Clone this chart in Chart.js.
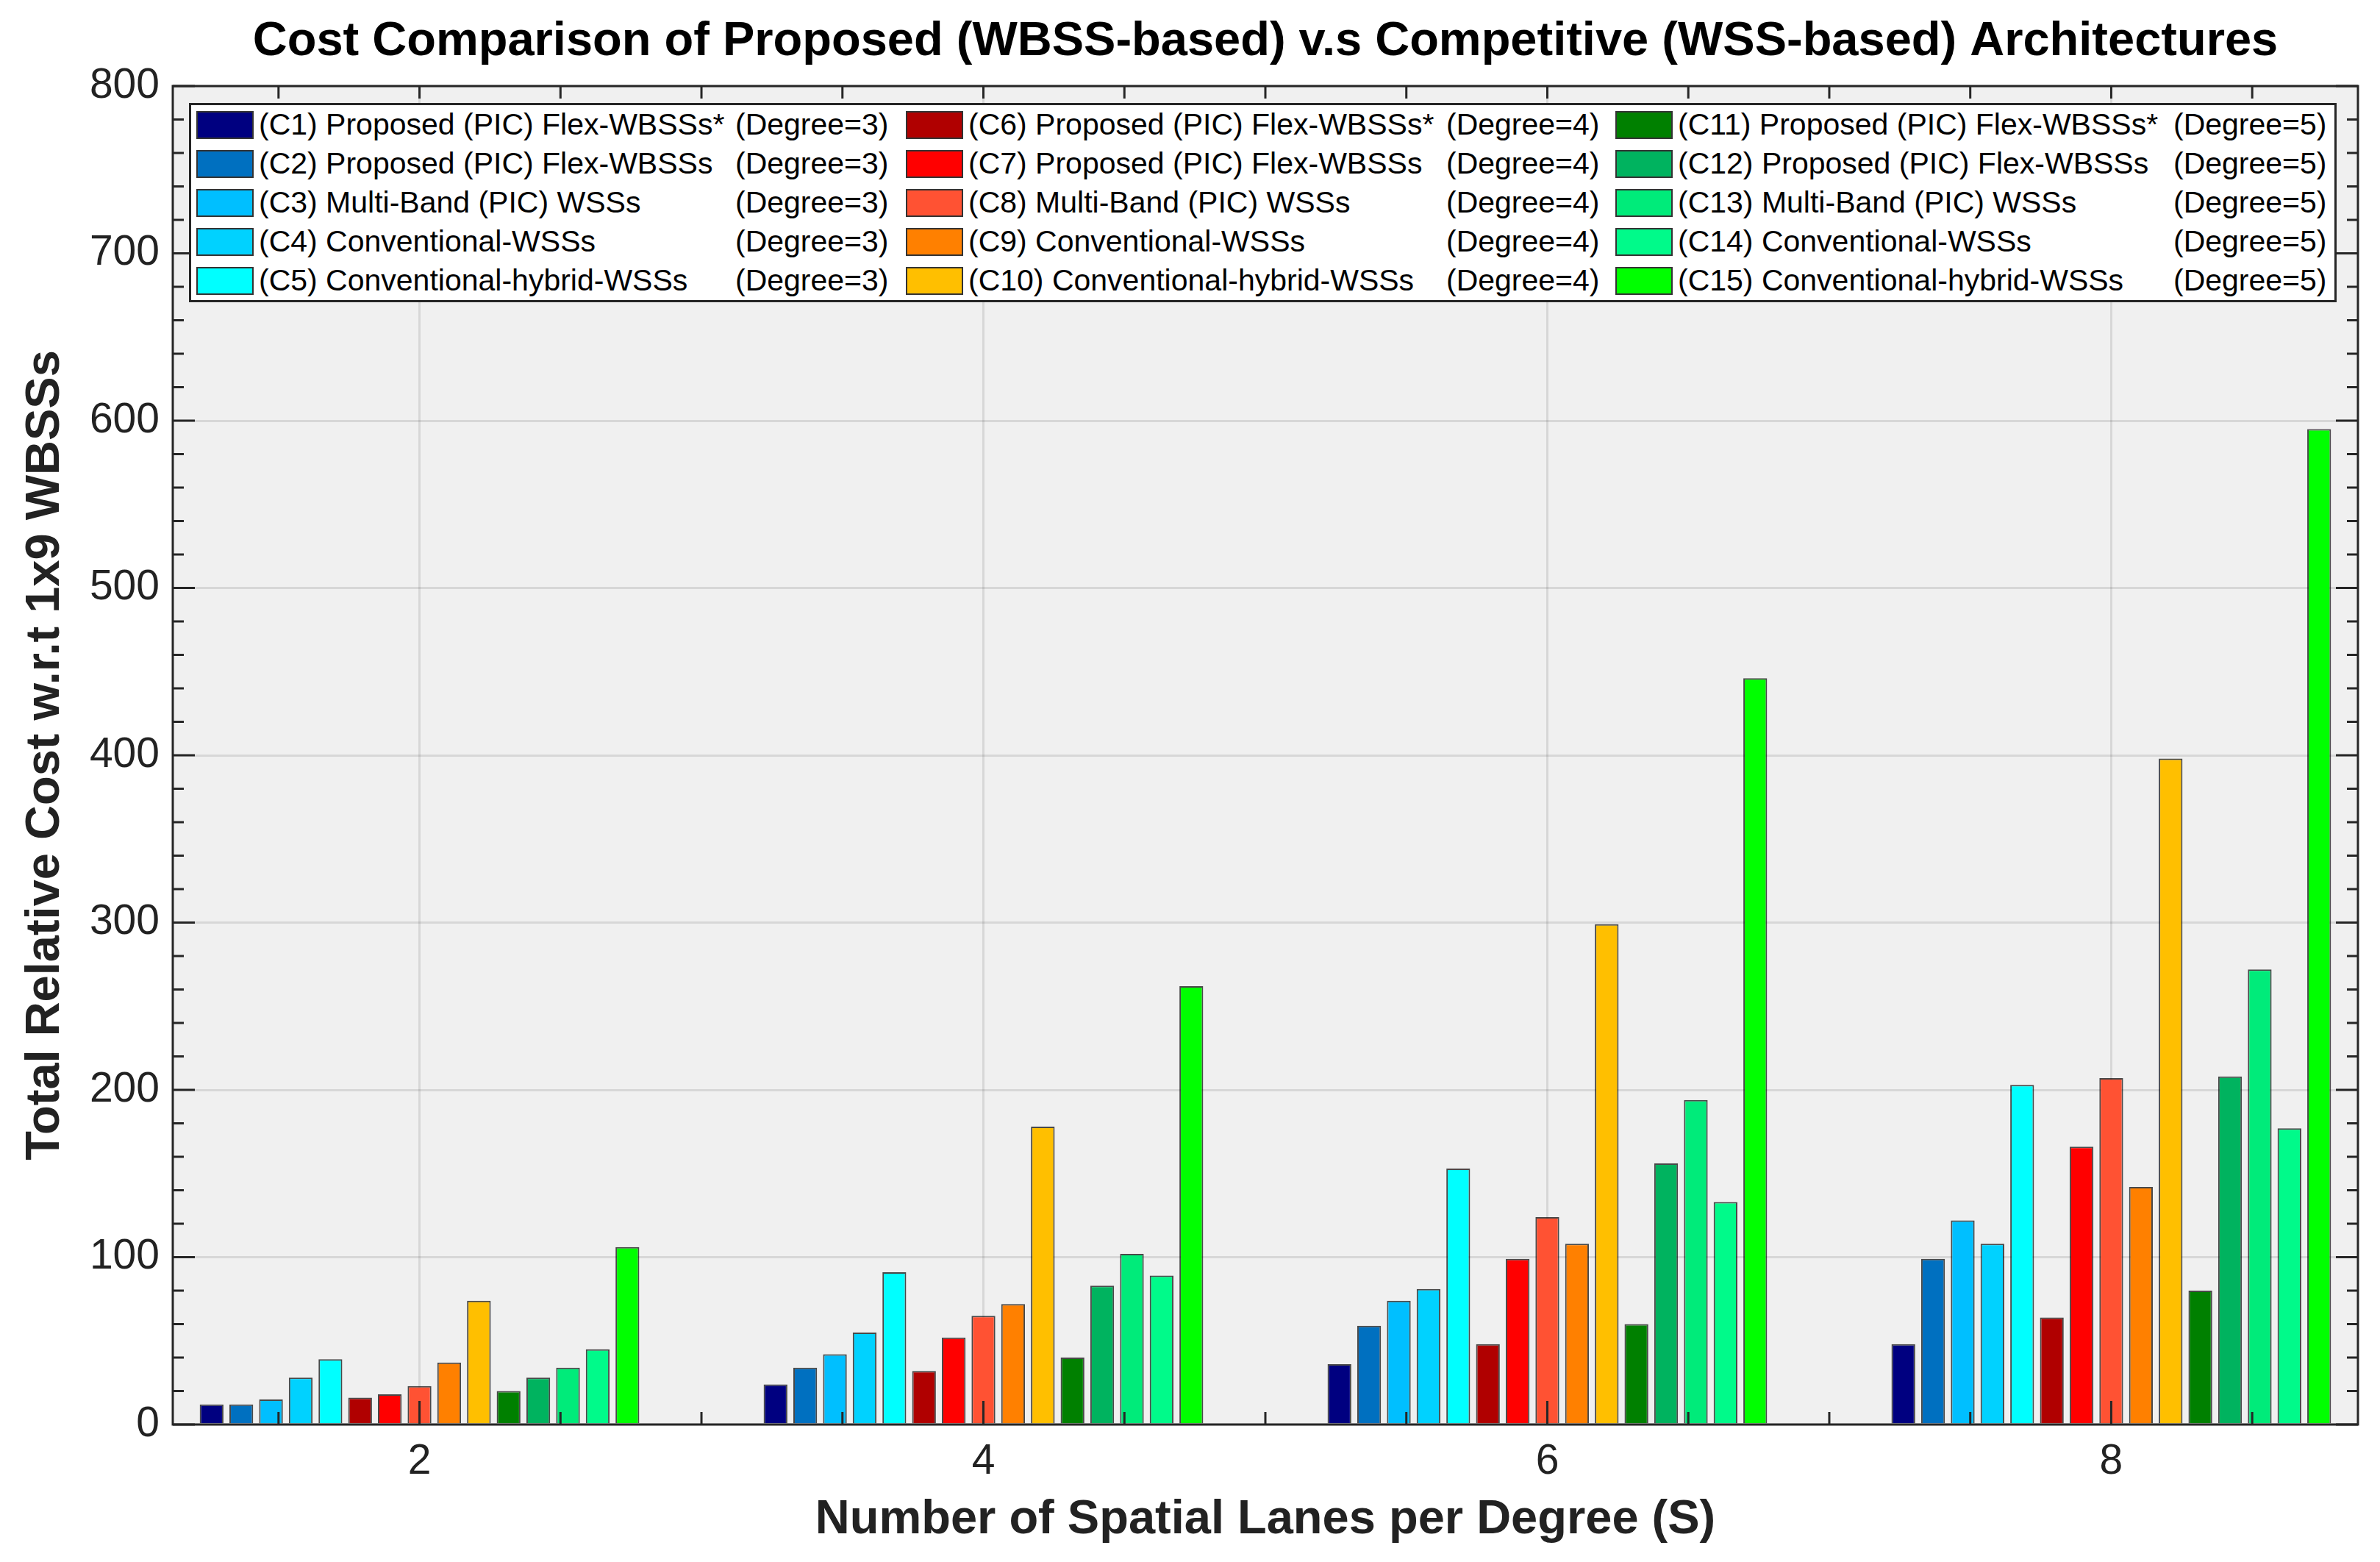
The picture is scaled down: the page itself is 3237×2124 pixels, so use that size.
<!DOCTYPE html>
<html>
<head>
<meta charset="utf-8">
<script src="https://cdn.jsdelivr.net/npm/chart.js@4.4.1/dist/chart.umd.min.js"></script>
<style>
    html, body { margin: 0; padding: 0; background: #fff; }
    #wrap { position: relative; width: 3237px; height: 2124px; }
    #cost-chart { display: block; }
    #legend {
        position: absolute; left: 257px; top: 140px;
        background: #fff; border: 3px solid #262626;
        padding: 0 0 0 7px; box-sizing: border-box; width: 2921px;
        display: grid;
        grid-template-columns: 78px 641px 225px 78px 643px 223px 78px 667px 212px;
        column-gap: 7px;
        grid-auto-rows: 53px;
        font-family: 'Liberation Sans', Arial, sans-serif; font-size: 41px; color: #000;
    }
    #legend .sw { align-self: center; height: 38px; box-sizing: border-box; border: 2px solid #333; }
    #legend .nm, #legend .dg { align-self: center; white-space: pre; line-height: 1; }
</style>
</head>
<body>
<div id="wrap">
    <canvas id="cost-chart" width="3237" height="2124"></canvas>
    <div id="legend"></div>
</div>
<script>
// Eixo x: número de faixas espaciais por grau (S)
const lanes = [2, 4, 6, 8];

// Custo relativo total (w.r.t 1x9 WBSS)
const c1 = [12, 24, 36, 48];
const c2 = [12, 34, 59, 99];
const c3 = [15, 42, 74, 122];
const c4 = [28, 55, 81, 108];
const c5 = [39, 91, 153, 203];
const c6 = [16, 32, 48, 64];
const c7 = [18, 52, 99, 166];
const c8 = [23, 65, 124, 207];
const c9 = [37, 72, 108, 142];
const c10 = [74, 178, 299, 398];
const c11 = [20, 40, 60, 80];
const c12 = [28, 83, 156, 208];
const c13 = [34, 102, 194, 272];
const c14 = [45, 89, 133, 177];
const c15 = [106, 262, 446, 595];

const seriesNames = [
    '(C1) Proposed (PIC) Flex-WBSSs*', '(C2) Proposed (PIC) Flex-WBSSs', '(C3) Multi-Band (PIC) WSSs',
    '(C4) Conventional-WSSs', '(C5) Conventional-hybrid-WSSs',
    '(C6) Proposed (PIC) Flex-WBSSs*', '(C7) Proposed (PIC) Flex-WBSSs', '(C8) Multi-Band (PIC) WSSs',
    '(C9) Conventional-WSSs', '(C10) Conventional-hybrid-WSSs',
    '(C11) Proposed (PIC) Flex-WBSSs*', '(C12) Proposed (PIC) Flex-WBSSs', '(C13) Multi-Band (PIC) WSSs',
    '(C14) Conventional-WSSs', '(C15) Conventional-hybrid-WSSs'
];
const seriesDegrees = ['(Degree=3)', '(Degree=3)', '(Degree=3)', '(Degree=3)', '(Degree=3)',
    '(Degree=4)', '(Degree=4)', '(Degree=4)', '(Degree=4)', '(Degree=4)',
    '(Degree=5)', '(Degree=5)', '(Degree=5)', '(Degree=5)', '(Degree=5)'];
const seriesValues = [c1, c2, c3, c4, c5, c6, c7, c8, c9, c10, c11, c12, c13, c14, c15];
const seriesColors = [
    '#000080', '#0070c0', '#00bfff', '#00d2ff', '#00ffff',
    '#b00000', '#ff0000', '#ff5233', '#ff8000', '#ffbf00',
    '#008000', '#00b35f', '#00eb7a', '#00fa8a', '#00ff00'
];

const yTickStep = 100;
const yMinorStep = 20;
const xMinorStep = 0.5;

const FONT = "'Liberation Sans', Arial, sans-serif";
const AXIS_COLOR = '#262626';

// Fundo cinza e caixa dos eixos com marcas para dentro (estilo MATLAB)
const axisBox = {
    id: 'axisBox',
    beforeDraw(chart) {
        const { ctx, chartArea: a } = chart;
        ctx.save();
        ctx.fillStyle = '#f0f0f0';
        ctx.fillRect(a.left, a.top, a.right - a.left, a.bottom - a.top);
        ctx.restore();
    },
    afterDatasetsDraw(chart) {
        const { ctx, chartArea: a } = chart;
        const xs = chart.scales.x;
        const ys = chart.scales.y;
        ctx.save();
        ctx.strokeStyle = AXIS_COLOR;
        ctx.lineWidth = 3;
        const line = (x1, y1, x2, y2) => {
            ctx.beginPath();
            ctx.moveTo(x1, y1);
            ctx.lineTo(x2, y2);
            ctx.stroke();
        };
        for (let v = ys.min; v <= ys.max + 1e-9; v += yMinorStep) {
            const py = ys.getPixelForValue(v);
            const len = v % yTickStep === 0 ? 30 : 15;
            line(a.left, py, a.left + len, py);
            line(a.right, py, a.right - len, py);
        }
        for (let v = Math.ceil(xs.min / xMinorStep) * xMinorStep; v <= xs.max; v += xMinorStep) {
            const px = xs.getPixelForValue(v);
            const len = lanes.includes(v) ? 32 : 17;
            line(px, a.bottom, px, a.bottom - len);
            line(px, a.top, px, a.top + 17);
        }
        ctx.strokeRect(a.left, a.top, a.right - a.left, a.bottom - a.top);
        ctx.restore();
    }
};

const ctx = document.getElementById('cost-chart').getContext('2d');
const costChart = new Chart(ctx, {
    type: 'bar',
    data: {
        labels: lanes,
        datasets: seriesValues.map((vals, i) => ({
            label: seriesNames[i] + ' ' + seriesDegrees[i],
            data: vals,
            backgroundColor: seriesColors[i],
            borderColor: 'rgba(0, 0, 0, 0.7)',
            borderWidth: 2,
            categoryPercentage: 0.79,
            barPercentage: 0.8
        }))
    },
    options: {
        responsive: false,
        devicePixelRatio: 1,
        animation: false,
        layout: { padding: { top: 0, right: 30, bottom: 0, left: 0 } },
        plugins: {
            legend: { display: false },
            tooltip: { enabled: false },
            title: {
                display: true,
                fullSize: false,
                text: 'Cost Comparison of Proposed (WBSS-based) v.s Competitive (WSS-based) Architectures',
                color: '#000',
                font: { family: FONT, size: 65, weight: 'bold' },
                padding: { top: 18, bottom: 21 }
            }
        },
        scales: {
            x: {
                type: 'linear',
                min: 1.125,
                max: 8.875,
                offset: false,
                afterBuildTicks: (axis) => { axis.ticks = lanes.map(v => ({ value: v })); },
                afterFit: (axis) => { axis.height = 187; },
                grid: { offset: false, color: 'rgba(0, 0, 0, 0.1)', lineWidth: 3, drawTicks: false },
                border: { display: false },
                ticks: { color: '#222', padding: 17, font: { family: FONT, size: 57 } },
                title: {
                    display: true,
                    text: 'Number of Spatial Lanes per Degree (S)',
                    color: '#222',
                    font: { family: FONT, size: 65, weight: 'bold' },
                    padding: { top: 0, bottom: 18 }
                }
            },
            y: {
                min: 0,
                max: 800,
                afterFit: (axis) => { axis.width = 235; },
                grid: { color: 'rgba(0, 0, 0, 0.1)', lineWidth: 3, drawTicks: false },
                border: { display: false },
                ticks: { stepSize: yTickStep, color: '#222', padding: 18, font: { family: FONT, size: 57 } },
                title: {
                    display: true,
                    text: 'Total Relative Cost w.r.t 1x9 WBSSs',
                    color: '#222',
                    font: { family: FONT, size: 65, weight: 'bold' },
                    padding: { top: 23, bottom: 0 }
                }
            }
        }
    },
    plugins: [axisBox]
});

// Legenda em 3 colunas (C1-C5, C6-C10, C11-C15), preenchida por linha
const legendBox = document.getElementById('legend');
for (let r = 0; r < 5; r++) {
    for (let c = 0; c < 3; c++) {
        const i = c * 5 + r;
        legendBox.innerHTML += `
            <div class="sw" style="background:${seriesColors[i]}"></div>
            <div class="nm">${seriesNames[i]}</div>
            <div class="dg">${seriesDegrees[i]}</div>`;
    }
}
</script>
</body>
</html>
